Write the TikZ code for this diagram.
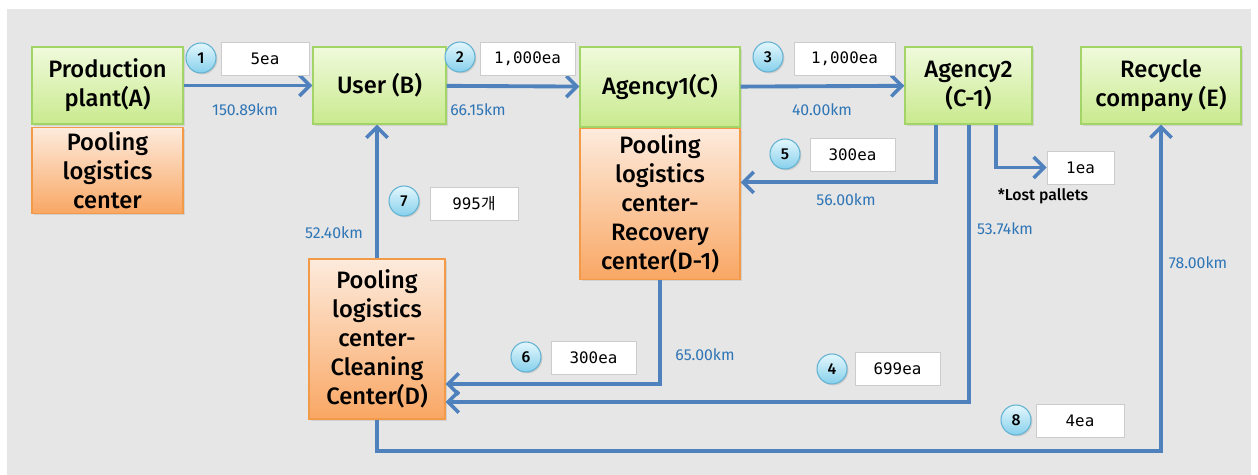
\documentclass[tikz,border=0pt]{standalone}
\usepackage{fontspec}
\setmainfont{Fira Sans}
\newfontfamily\sitefont{Fira Sans Medium}
\newfontfamily\krfont{Noto Sans CJK KR}
\newfontfamily\qtyfont{DejaVu Sans Mono}
\usetikzlibrary{arrows.meta,positioning,calc,shadows}

\definecolor{bgGray}{HTML}{E6E6E6}
\definecolor{greenTop}{HTML}{F0FADC}
\definecolor{greenBot}{HTML}{C9EA8E}
\definecolor{greenLine}{HTML}{A3D468}
\definecolor{orangeTop}{HTML}{FDEBDD}
\definecolor{orangeBot}{HTML}{F9A764}
\definecolor{orangeLine}{HTML}{F29A48}
\definecolor{flowBlue}{HTML}{4F81BD}
\definecolor{kmBlue}{HTML}{2E75B6}
\definecolor{stepTop}{HTML}{E4F7FD}
\definecolor{stepBot}{HTML}{86D0EC}
\definecolor{stepLine}{HTML}{62B2D2}

\begin{document}
\begin{tikzpicture}[x=0.02cm, y=-0.02cm,
	site/.style={draw=greenLine, line width=0.8pt, top color=greenTop, bottom color=greenBot,
		align=center, inner sep=0pt, font=\sitefont\fontsize{13.5}{16.5}\selectfont,
		drop shadow={opacity=0.2, shadow xshift=1pt, shadow yshift=-1pt}},
	pool/.style={draw=orangeLine, line width=0.8pt, top color=orangeTop, bottom color=orangeBot,
		align=center, inner sep=0pt, font=\sitefont\fontsize{13.5}{16.5}\selectfont,
		drop shadow={opacity=0.2, shadow xshift=1pt, shadow yshift=-1pt}},
	flow/.style={draw=flowBlue, line width=2.2pt,
		-{Straight Barb[length=6pt, width=12pt, line width=2pt]}},
	stepnum/.style={circle, draw=stepLine, line width=0.6pt, top color=stepTop, bottom color=stepBot,
		minimum size=0.6cm, inner sep=0pt, font=\sitefont\fontsize{9}{10}\selectfont,
		drop shadow={opacity=0.25, shadow xshift=0.8pt, shadow yshift=-0.8pt}},
	qty/.style={draw=black!20, fill=white, minimum height=0.66cm, inner sep=0pt,
		font=\qtyfont\fontsize{9}{10}\selectfont},
	km/.style={text=kmBlue, font=\fontsize{9}{10}\selectfont, inner sep=0pt}
	]

	% Hintergrund
	\useasboundingbox (0,0) rectangle (1258,475);
	\fill[bgGray] (7,9) rectangle (1251,475);

	% Standorte
	\node[site, minimum width=3.02cm, minimum height=1.54cm] (A) at (107.5,85.5) {Production\\plant(A)};
	\node[pool, minimum width=3.02cm, minimum height=1.72cm, below=0.04cm of A] (Apool) {Pooling\\logistics\\center};
	\node[site, minimum width=2.66cm, minimum height=1.54cm] (B) at (379.5,85.5) {User (B)};
	\node[site, minimum width=3.2cm, minimum height=1.6cm] (C) at (660,87) {Agency1(C)};
	\node[pool, minimum width=3.2cm, minimum height=3.02cm, below=0cm of C] (Cpool) {Pooling\\logistics\\center-\\Recovery\\center(D-1)};
	\node[site, minimum width=2.54cm, minimum height=1.54cm] (C1) at (968.5,85.5) {Agency2\\(C-1)};
	\node[site, minimum width=3.2cm, minimum height=1.54cm] (E) at (1161,85.5) {Recycle\\company (E)};
	\node[pool, minimum width=2.72cm, minimum height=3.2cm] (D) at (377,339) {Pooling\\logistics\\center-\\Cleaning\\Center(D)};

	% Verlust
	\node[qty, minimum width=1.34cm] (lost) at (1080.5,167.5) {1ea};
	\node[font=\sitefont\fontsize{9}{10}\selectfont] (losttxt) at (1043,196) {*Lost pallets};

	% Fluesse
	\draw[flow] (A) -- (B);
	\draw[flow] (B) -- (C);
	\draw[flow] (C) -- (C1);
	\draw[flow] ($(C1.south west)+(32,0)$) |- ($(Cpool.east)+(0,-21.5)$);
	\draw[flow] ($(C1.south west)+(65,0)$) |- ($(D.east)+(0,63)$);
	\draw[flow] ($(C1.south west)+(92,0)$) |- (lost.west);
	\draw[flow] (Cpool.south) |- ($(D.east)+(0,45)$);
	\draw[flow] (D.north) -- (D.north |- B.south);
	\draw[flow] (D.south) -- ++(0,31) -| (E.south);

	% Schritte
	\node[stepnum] (s1) at (201,58) {1};
	\node[stepnum] (s2) at (460,57) {2};
	\node[stepnum] (s3) at (768,57) {3};
	\node[stepnum] (s4) at (832,369) {4};
	\node[stepnum] (s5) at (785,154) {5};
	\node[stepnum] (s6) at (526,357) {6};
	\node[stepnum] (s7) at (404,201) {7};
	\node[stepnum] (s8) at (1016,420) {8};

	% Mengen
	\node[qty, minimum width=1.76cm] (q1) at (265,58.5) {5ea};
	\node[qty, minimum width=1.9cm] (q2) at (527.5,58.5) {1,000ea};
	\node[qty, minimum width=2.02cm] (q3) at (844.5,58.5) {1,000ea};
	\node[qty, minimum width=1.7cm] (q4) at (897.5,369) {699ea};
	\node[qty, minimum width=1.7cm] (q5) at (852.5,154.5) {300ea};
	\node[qty, minimum width=1.7cm] (q6) at (593.5,357.5) {300ea};
	\node[qty, minimum width=1.76cm] (q7) at (474,203.5) {995{\krfont 개}};
	\node[qty, minimum width=1.76cm] (q8) at (1080,421) {4ea};

	% Entfernungen
	\node[km] (d1) at (245,110) {150.89km};
	\node[km] (d2) at (478,110) {66.15km};
	\node[km] (d3) at (822,110) {40.00km};
	\node[km] (d4) at (1005,229) {53.74km};
	\node[km] (d5) at (846,200) {56.00km};
	\node[km] (d6) at (705,355) {65.00km};
	\node[km] (d7) at (334,233) {52.40km};
	\node[km] (d8) at (1198,263) {78.00km};

\end{tikzpicture}
\end{document}
